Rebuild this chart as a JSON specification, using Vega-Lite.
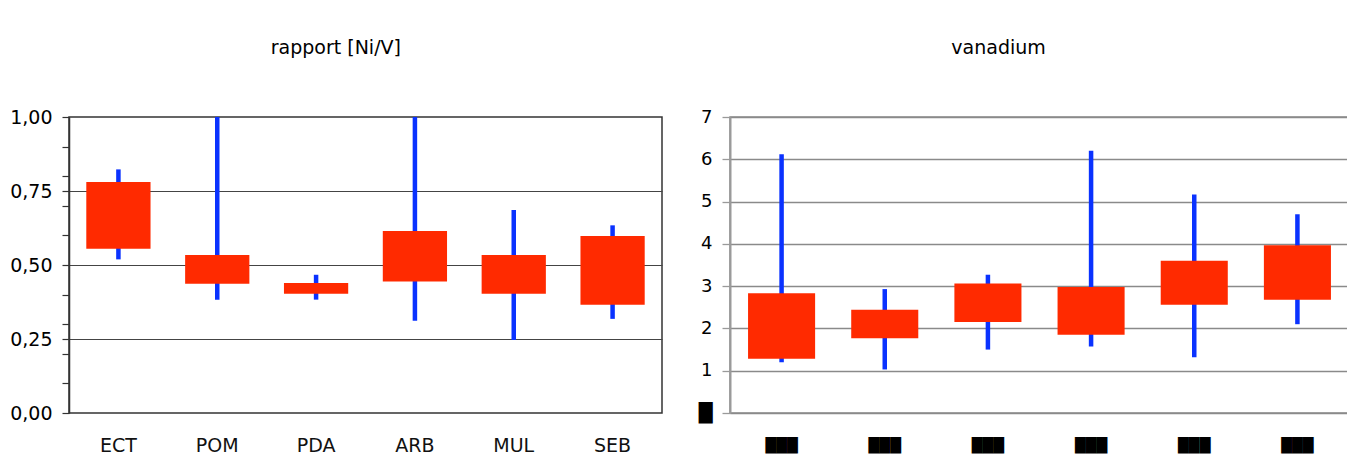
{
  "$schema": "https://vega.github.io/schema/vega-lite/v6.json",
  "background": "white",
  "padding": {"left": 8, "top": 38, "right": 0, "bottom": 0},
  "config": {"view": {"stroke": null}, "font": "DejaVu Sans", "concat": {"spacing": 34}},
  "hconcat": [
    {
      "width": 593,
      "height": 296,
      "title": {"text": "rapport [Ni/V]", "fontSize": 19, "fontWeight": "normal", "color": "#000", "anchor": "middle", "frame": "bounds", "offset": 50},
      "view": {"stroke": "#333", "strokeWidth": 1.5},
      "data": {"values": [
        {"cat": "ECT", "lo": 0.519, "q1": 0.555, "q3": 0.780, "hi": 0.823},
        {"cat": "POM", "lo": 0.383, "q1": 0.437, "q3": 0.534, "hi": 1.0},
        {"cat": "PDA", "lo": 0.383, "q1": 0.403, "q3": 0.439, "hi": 0.467},
        {"cat": "ARB", "lo": 0.312, "q1": 0.444, "q3": 0.615, "hi": 1.0},
        {"cat": "MUL", "lo": 0.247, "q1": 0.403, "q3": 0.534, "hi": 0.686},
        {"cat": "SEB", "lo": 0.318, "q1": 0.366, "q3": 0.598, "hi": 0.634}
      ]},
      "encoding": {
        "x": {"field": "cat", "type": "nominal", "sort": null, "title": null,
          "scale": {"paddingInner": 0, "paddingOuter": 0},
          "axis": {"domain": false, "ticks": false, "labelAngle": 0, "labelFontSize": 19, "labelColor": "#111", "labelPadding": 23}}
      },
      "layer": [
        {
          "mark": {"type": "rule", "color": "#0a32ff", "strokeWidth": 4.5},
          "encoding": {
            "y": {"field": "lo", "type": "quantitative", "title": null,
              "scale": {"domain": [0, 1], "nice": false, "zero": false},
              "axis": {
                "values": [0, 0.1, 0.2, 0.25, 0.3, 0.4, 0.5, 0.6, 0.7, 0.75, 0.8, 0.9, 1],
                "tickCount": 30,
                "labelExpr": "abs(datum.value*4-round(datum.value*4))<0.001 ? replace(format(datum.value,'.2f'),'.',',') : ''",
                "labelOverlap": false,
                "grid": true, "gridColor": "#444", "gridWidth": 1.2,
                "gridOpacity": {"condition": {"test": "abs(datum.value*4-round(datum.value*4))<0.001 && datum.value>0 && datum.value<1", "value": 1}, "value": 0},
                "domainColor": "#333", "domainWidth": 1.5,
                "tickColor": "#333", "tickSize": 7, "tickWidth": 1.2,
                "labelFontSize": 19, "labelColor": "#000", "labelPadding": 10
              }},
            "y2": {"field": "hi"}
          }
        },
        {
          "mark": {"type": "bar", "color": "#ff2a00", "width": {"band": 0.65}},
          "encoding": {
            "y": {"field": "q1", "type": "quantitative"},
            "y2": {"field": "q3"}
          }
        }
      ]
    },
    {
      "width": 619,
      "height": 296,
      "title": {"text": "vanadium", "fontSize": 19, "fontWeight": "normal", "color": "#000", "anchor": "middle", "frame": "bounds", "offset": 50, "dx": -25},
      "view": {"stroke": "#888", "strokeWidth": 1.5},
      "data": {"values": [
        {"cat": "c1", "lo": 1.20, "q1": 1.28, "q3": 2.83, "hi": 6.12},
        {"cat": "c2", "lo": 1.03, "q1": 1.77, "q3": 2.44, "hi": 2.93},
        {"cat": "c3", "lo": 1.50, "q1": 2.15, "q3": 3.06, "hi": 3.27},
        {"cat": "c4", "lo": 1.57, "q1": 1.85, "q3": 2.98, "hi": 6.20},
        {"cat": "c5", "lo": 1.32, "q1": 2.56, "q3": 3.60, "hi": 5.17},
        {"cat": "c6", "lo": 2.10, "q1": 2.68, "q3": 3.97, "hi": 4.70}
      ]},
      "encoding": {
        "x": {"field": "cat", "type": "nominal", "sort": null, "title": null,
          "scale": {"paddingInner": 0, "paddingOuter": 0},
          "axis": {"domain": false, "ticks": false, "labelAngle": 0, "labelExpr": "'███'", "labelFontSize": 14, "labelColor": "#000", "labelPadding": 25}}
      },
      "layer": [
        {
          "mark": {"type": "rule", "color": "#0a32ff", "strokeWidth": 4.5},
          "encoding": {
            "y": {"field": "lo", "type": "quantitative", "title": null,
              "scale": {"domain": [0, 7], "nice": false, "zero": false},
              "axis": {
                "values": [0, 1, 2, 3, 4, 5, 6, 7],
                "tickCount": 30,
                "format": "d",
                "labelExpr": "datum.value == 0 ? '█' : datum.label",
                "labelOverlap": false,
                "grid": true, "gridColor": "#8a8a8a", "gridWidth": 1.3,
                "domainColor": "#9a9a9a", "domainWidth": 2,
                "tickColor": "#9a9a9a", "tickSize": 8, "tickWidth": 1.3,
                "labelFontSize": 18, "labelColor": "#000", "labelPadding": 10
              }},
            "y2": {"field": "hi"}
          }
        },
        {
          "mark": {"type": "bar", "color": "#ff2a00", "width": {"band": 0.65}},
          "encoding": {
            "y": {"field": "q1", "type": "quantitative"},
            "y2": {"field": "q3"}
          }
        }
      ]
    }
  ]
}
